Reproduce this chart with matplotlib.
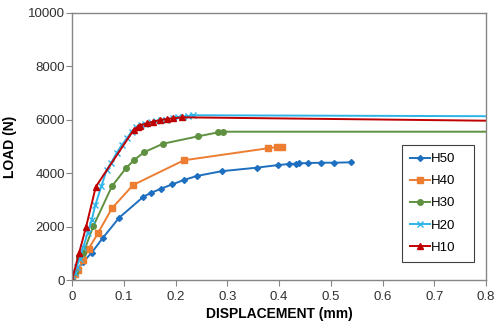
import matplotlib
matplotlib.use("Agg")
import matplotlib.pyplot as plt

plt.rcParams['font.family'] = ['Liberation Sans', 'DejaVu Sans']

# displacement (mm) / load (N)
h50_x = [0, 0.010, 0.022, 0.038, 0.059, 0.091, 0.138, 0.152, 0.172, 0.194, 0.216, 0.241,
         0.289, 0.357, 0.399, 0.420, 0.432, 0.439, 0.457, 0.482, 0.507, 0.539]
h50_y = [0, 375, 685, 1022, 1562, 2330, 3120, 3258, 3420, 3584, 3745, 3895,
         4075, 4207, 4307, 4345, 4357, 4370, 4382, 4393, 4393, 4408]

h40_x = [0, 0.006, 0.012, 0.021, 0.032, 0.050, 0.077, 0.118, 0.216, 0.378, 0.397, 0.405]
h40_y = [0, 225, 375, 749, 1161, 1749, 2680, 3558, 4483, 4932, 4981, 4994]

h30_x = [0, 0.006, 0.0135, 0.022, 0.041, 0.077, 0.104, 0.120, 0.139, 0.176, 0.244,
         0.283, 0.291, 1.2]
h30_y = [0, 311, 873, 1010, 2010, 3505, 4183, 4494, 4783, 5105, 5382,
         5532, 5554, 5554]

h20_x = [0, 0.005, 0.009, 0.015, 0.022, 0.030, 0.038, 0.045, 0.057, 0.067, 0.075, 0.086,
         0.096, 0.106, 0.115, 0.124, 0.133, 0.142, 0.152, 0.162, 0.172, 0.182, 0.195,
         0.205, 0.215, 0.225, 0.234, 1.2]
h20_y = [0, 250, 498, 800, 1250, 1750, 2247, 2800, 3532, 4120, 4370, 4745,
         5056, 5307, 5554, 5742, 5800, 5860, 5900, 5940, 5980, 6010, 6060,
         6090, 6110, 6142, 6170, 6110]

h10_x = [0, 0.0135, 0.027, 0.046, 0.119, 0.128, 0.131, 0.144, 0.157, 0.170, 0.183,
         0.196, 0.212, 1.2]
h10_y = [0, 1000, 1974, 3494, 5618, 5742, 5779, 5869, 5929, 5993, 6030,
         6056, 6093, 5880]

series = [
    ("H50", h50_x, h50_y, "#1F6FC0", "D", 3.0),
    ("H40", h40_x, h40_y, "#ED7D31", "s", 4.5),
    ("H30", h30_x, h30_y, "#5F9140", "o", 4.0),
    ("H20", h20_x, h20_y, "#2FB4EA", "x", 4.0),
    ("H10", h10_x, h10_y, "#C00000", "^", 4.5),
]

fig = plt.figure(figsize=(5, 3.28), dpi=100)
ax = fig.add_axes([0.144, 0.1463, 0.828, 0.8141])

for name, xs, ys, col, mk, ms in series:
    ax.plot(xs, ys, color=col, marker=mk, markersize=ms, linewidth=1.4,
            markeredgewidth=1.0, label=name)

ax.set_xlim(0, 0.8)
ax.set_ylim(0, 10000)
ax.set_xticks([0, 0.1, 0.2, 0.3, 0.4, 0.5, 0.6, 0.7, 0.8])
ax.set_xticklabels(["0", "0.1", "0.2", "0.3", "0.4", "0.5", "0.6", "0.7", "0.8"])
ax.set_yticks([0, 2000, 4000, 6000, 8000, 10000])

for s in ax.spines.values():
    s.set_color("#868686")
    s.set_linewidth(1.0)
ax.tick_params(axis="both", colors="#868686", labelcolor="#303030", labelsize=9.5,
               length=4, width=0.8)
ax.tick_params(axis="y", pad=1)
ax.tick_params(axis="x", pad=4)

ax.set_xlabel("DISPLACEMENT (mm)", fontsize=10, fontweight="bold", labelpad=3)
ax.set_ylabel("LOAD (N)", fontsize=10, fontweight="bold", labelpad=8)

leg = ax.legend(loc="lower left", bbox_to_anchor=(0.782, 0.044, 0.205, 0.39),
                mode="expand", fontsize=9.5, fancybox=False, framealpha=1,
                edgecolor="#404040", handlelength=1.5, handletextpad=0.1,
                labelspacing=0.75, borderpad=0.6)
leg.get_frame().set_linewidth(0.8)

fig.savefig("out.png", dpi=100)
